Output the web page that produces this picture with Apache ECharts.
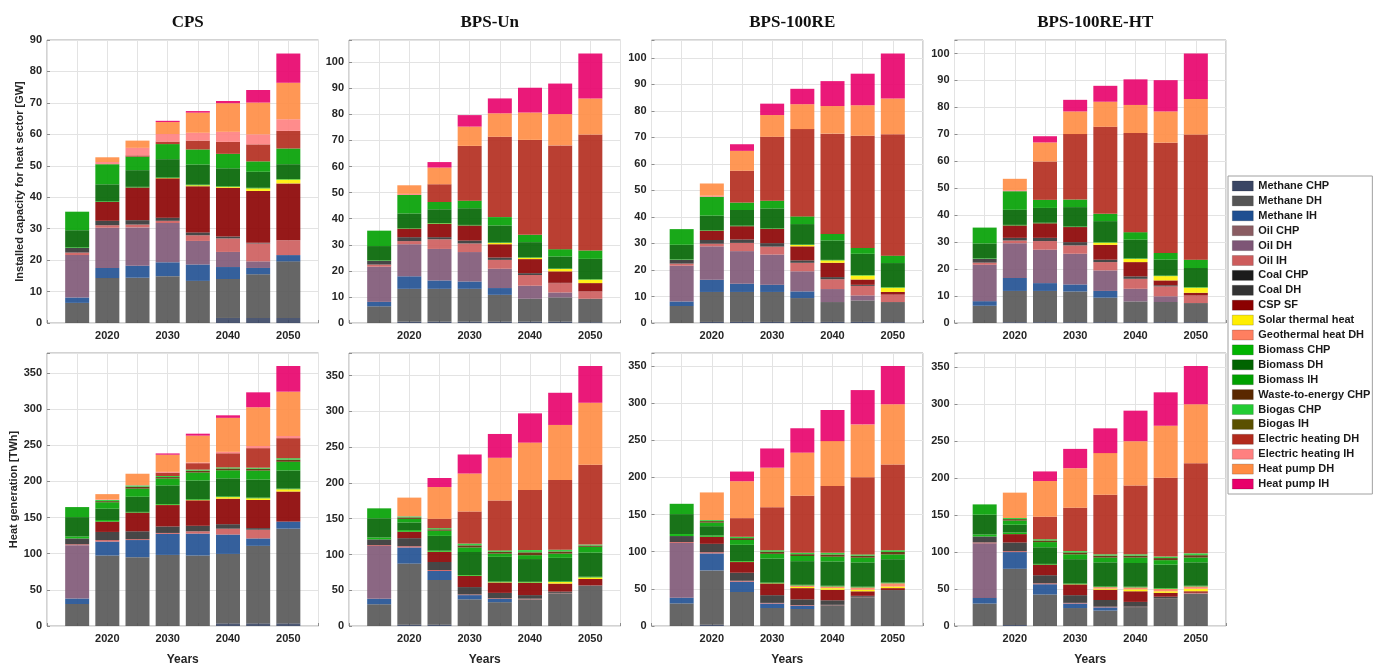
<!DOCTYPE html>
<html>
<head>
<meta charset="utf-8">
<script src="https://cdn.jsdelivr.net/npm/echarts@6/dist/echarts.min.js"></script>
<style>
  html, body { margin: 0; padding: 0; background: #ffffff; }
  #chart { width: 1380px; height: 667px; }
</style>
</head>
<body>
<div id="chart"></div>
<script>
// ---------------------------------------------------------------------------
// Heat sector: installed capacity (GW) and heat generation (TWh) per scenario
// ---------------------------------------------------------------------------
const years = [2015, 2020, 2025, 2030, 2035, 2040, 2045, 2050];
const scenarios = ['CPS', 'BPS-Un', 'BPS-100RE', 'BPS-100RE-HT'];
const technologies = [
  'Methane CHP', 'Methane DH', 'Methane IH', 'Oil CHP', 'Oil DH', 'Oil IH',
  'Coal CHP', 'Coal DH', 'CSP SF', 'Solar thermal heat', 'Geothermal heat DH',
  'Biomass CHP', 'Biomass DH', 'Biomass IH', 'Waste-to-energy CHP',
  'Biogas CHP', 'Biogas IH', 'Electric heating DH', 'Electric heating IH',
  'Heat pump DH', 'Heat pump IH'
];
const techColors = [
  '#3a4664', '#555555', '#1f4f91', '#8a5c62', '#7e5676', '#cd5c5c',
  '#1c1c1c', '#333333', '#8b0000', '#ffee00', '#ff7f60',
  '#00b400', '#006400', '#00a000', '#5a2800',
  '#22cc33', '#5a5000', '#b22a1c', '#ff8080',
  '#ff8c42', '#e8006a'
];

// Rows follow `technologies`, columns follow `years`.
const capacityCPS = [
  [0, 0, 0, 0, 0, 1.6, 1.6, 1.6],
  [6.4, 14.3, 14.4, 14.9, 13.4, 12.4, 13.9, 18.0],
  [1.7, 3.2, 3.8, 4.4, 5.2, 3.8, 2.0, 2.0],
  [0, 0, 0, 0, 0, 0, 0, 0],
  [13.5, 12.8, 12.2, 12.5, 7.5, 4.8, 2.1, 0],
  [0.8, 0.8, 0.9, 0.7, 1.8, 4.3, 5.7, 4.7],
  [0, 0, 0, 0, 0, 0, 0, 0],
  [1.5, 1.4, 1.4, 1.0, 0.9, 0.6, 0.2, 0],
  [0, 6.0, 10.4, 12.5, 14.7, 15.5, 16.5, 18.1],
  [0, 0, 0, 0.1, 0.3, 0.3, 0.8, 1.2],
  [0, 0, 0, 0, 0, 0, 0, 0],
  [0.2, 0.2, 0.2, 0.2, 0.2, 0.2, 0.2, 0.2],
  [5.4, 5.4, 5.3, 5.8, 6.4, 5.7, 5.1, 4.7],
  [5.9, 6.4, 4.3, 4.8, 4.8, 4.6, 3.3, 5.0],
  [0, 0, 0, 0, 0, 0, 0, 0],
  [0, 0, 0, 0, 0, 0, 0, 0],
  [0, 0, 0, 0, 0, 0, 0, 0],
  [0, 0, 0.4, 0.8, 2.8, 3.8, 5.4, 5.6],
  [0, 0.7, 2.4, 2.4, 2.5, 3.2, 3.2, 3.7],
  [0, 1.5, 2.3, 3.8, 6.4, 9.1, 10.1, 11.6],
  [0, 0, 0, 0.4, 0.5, 0.7, 4.0, 9.3]
];

const capacityBPSUn = [
  [0, 0.5, 0.5, 0.5, 0.5, 0.5, 0.5, 0.3],
  [6.4, 12.6, 12.6, 12.6, 10.3, 8.8, 9.3, 9.0],
  [1.7, 4.8, 3.2, 2.8, 2.6, 0, 0, 0],
  [0, 0, 0, 0, 0, 0, 0, 0],
  [13.5, 12.3, 12.1, 11.3, 7.4, 5.0, 1.9, 0],
  [0.8, 1.2, 3.7, 3.3, 3.4, 4.1, 3.6, 2.8],
  [0, 0, 0, 0, 0, 0, 0, 0],
  [1.5, 1.5, 0.8, 1.1, 0.9, 0.7, 0.1, 0],
  [0, 3.3, 5.1, 5.8, 5.1, 5.4, 4.4, 3.2],
  [0, 0, 0.1, 0, 0.5, 0.5, 0.9, 1.3],
  [0, 0, 0, 0, 0, 0, 0, 0],
  [0.2, 0.2, 0.2, 0.2, 0.2, 0.2, 0.2, 0.2],
  [5.4, 5.6, 5.3, 6.4, 6.5, 5.8, 4.6, 7.8],
  [5.9, 7.1, 2.8, 2.9, 3.2, 2.8, 2.8, 3.2],
  [0, 0, 0, 0, 0, 0, 0, 0],
  [0, 0, 0, 0, 0, 0, 0, 0],
  [0, 0, 0, 0, 0, 0, 0, 0],
  [0, 0, 6.8, 21.0, 30.8, 36.4, 39.8, 44.5],
  [0, 0.4, 0, 0, 0, 0, 0, 0],
  [0, 3.3, 6.4, 7.4, 9.0, 10.5, 12.0, 13.8],
  [0, 0, 2.1, 4.4, 5.7, 9.5, 11.7, 17.2]
];

const capacityBPS100RE = [
  [0, 0.4, 0.4, 0.4, 0.4, 0.4, 0.4, 0.3],
  [6.4, 11.3, 11.3, 11.3, 9.0, 7.5, 8.1, 7.6],
  [1.7, 4.6, 3.1, 2.7, 2.5, 0, 0, 0],
  [0, 0, 0, 0, 0, 0, 0, 0],
  [13.5, 12.6, 12.3, 11.4, 7.6, 4.9, 1.9, 0],
  [0.8, 1.0, 3.1, 3.0, 3.2, 3.7, 3.6, 2.8],
  [0, 0, 0, 0, 0, 0, 0, 0],
  [1.5, 1.4, 1.3, 1.3, 0.9, 0.8, 0.4, 0],
  [0, 3.5, 5.0, 5.4, 5.3, 5.4, 2.0, 1.0],
  [0, 0, 0, 0, 0.5, 0.9, 1.5, 1.6],
  [0, 0, 0, 0, 0, 0, 0, 0],
  [0.2, 0.2, 0.2, 0.2, 0.2, 0.2, 0.2, 0.2],
  [5.4, 5.5, 5.9, 7.5, 7.7, 7.3, 8.0, 9.1],
  [5.9, 7.1, 2.8, 2.9, 2.9, 2.5, 2.2, 2.8],
  [0, 0, 0, 0, 0, 0, 0, 0],
  [0, 0, 0, 0, 0, 0, 0, 0],
  [0, 0, 0, 0, 0, 0, 0, 0],
  [0, 0, 12.0, 24.1, 32.9, 37.8, 42.3, 45.8],
  [0, 0.4, 0, 0, 0, 0, 0, 0],
  [0, 4.6, 7.5, 8.2, 9.4, 10.4, 11.5, 13.4],
  [0, 0, 2.5, 4.3, 5.8, 9.4, 11.9, 17.0]
];

const capacityBPS100REHT = [
  [0, 0.3, 0.3, 0.3, 0.3, 0.3, 0.3, 0.3],
  [6.4, 11.6, 11.6, 11.4, 9.1, 7.7, 7.5, 7.1],
  [1.7, 4.8, 2.9, 2.6, 2.5, 0, 0, 0],
  [0, 0, 0, 0, 0, 0, 0, 0],
  [13.5, 12.9, 12.4, 11.4, 7.6, 4.7, 2.1, 0],
  [0.8, 1.0, 3.2, 3.1, 3.1, 3.7, 3.7, 2.8],
  [0, 0, 0, 0, 0, 0, 0, 0],
  [1.5, 1.0, 1.2, 1.2, 0.9, 0.9, 0.4, 0],
  [0, 4.6, 5.4, 5.6, 5.5, 5.3, 1.8, 1.0],
  [0, 0, 0, 0, 0.8, 1.2, 1.6, 1.9],
  [0, 0, 0, 0, 0, 0, 0, 0],
  [0.2, 0.2, 0.2, 0.2, 0.2, 0.2, 0.2, 0.2],
  [5.4, 5.6, 5.5, 7.2, 7.8, 6.9, 5.9, 7.1],
  [5.9, 6.9, 3.0, 2.8, 2.7, 2.8, 2.5, 3.1],
  [0, 0, 0, 0, 0, 0, 0, 0],
  [0, 0, 0, 0, 0, 0, 0, 0],
  [0, 0, 0, 0, 0, 0, 0, 0],
  [0, 0, 14.2, 24.3, 32.3, 36.8, 40.9, 46.4],
  [0, 0.4, 0, 0, 0, 0, 0, 0],
  [0, 4.2, 7.1, 8.4, 9.3, 10.4, 11.6, 13.2],
  [0, 0, 2.3, 4.3, 5.9, 9.5, 11.6, 16.9]
];

const generationCPS = [
  [0, 0, 0, 0, 0, 3.6, 3.6, 3.6],
  [30.4, 97.5, 95.2, 98.3, 97.5, 96.1, 107.3, 131.0],
  [7.6, 19.2, 23.7, 29.1, 30.3, 26.8, 10.2, 9.8],
  [0, 0, 0, 0, 0, 0, 0, 0],
  [73.8, 0, 0, 0, 0, 0, 0, 0],
  [1.3, 2.2, 1.3, 1.3, 3.2, 8.1, 12.1, 0],
  [0, 0, 0, 0, 0, 0, 0, 0],
  [8.0, 11.2, 10.8, 9.0, 7.6, 6.2, 2.2, 0],
  [0, 14.3, 25.9, 29.6, 35.3, 35.3, 38.9, 41.6],
  [0, 0, 0, 0.3, 0.5, 2.2, 2.3, 3.1],
  [0, 0, 0, 0, 0, 0, 0, 0],
  [2.7, 2.2, 0.9, 1.0, 1.0, 1.0, 1.0, 1.0],
  [26.8, 15.7, 21.0, 25.9, 25.8, 24.9, 24.9, 24.9],
  [13.9, 8.9, 11.2, 9.5, 11.1, 11.2, 12.5, 12.1],
  [0, 1.5, 2.7, 2.0, 2.5, 2.5, 2.5, 3.0],
  [0, 1.6, 1.8, 1.5, 1.5, 1.5, 1.5, 2.0],
  [0, 0, 0, 0, 0, 0, 0, 0],
  [0, 0, 0, 4.5, 8.9, 19.5, 27.0, 27.7],
  [0, 0.8, 0.5, 1.2, 1.0, 2.0, 3.0, 3.0],
  [0, 7.3, 15.6, 23.7, 37.1, 47.0, 53.6, 61.3],
  [0, 0, 0, 1.8, 2.7, 3.5, 20.6, 35.5]
];

const generationBPSUn = [
  [0, 1.8, 1.8, 0, 0, 0, 0, 0],
  [30.4, 85.5, 62.5, 37.3, 33.3, 37.3, 45.8, 56.7],
  [7.6, 22.5, 12.6, 5.9, 4.5, 0, 0, 0],
  [0, 0, 0, 0, 0, 0, 0, 0],
  [73.8, 0, 0, 0, 0, 0, 0, 0],
  [1.3, 1.8, 1.4, 0.9, 0.9, 0.9, 0.5, 0],
  [0, 0, 0, 0, 0, 0, 0, 0],
  [8.0, 11.2, 11.2, 10.3, 7.6, 5.0, 1.8, 0],
  [0, 9.0, 14.0, 15.5, 14.4, 17.1, 11.2, 9.0],
  [0, 0, 0.3, 0.3, 0.5, 0.5, 2.3, 2.2],
  [0, 0, 0, 0, 0, 0, 0, 0],
  [2.7, 2.3, 1.5, 1.0, 1.0, 1.0, 1.0, 1.0],
  [26.8, 10.7, 20.7, 32.3, 34.5, 31.8, 32.7, 33.7],
  [13.9, 5.0, 7.2, 6.3, 4.5, 5.4, 5.9, 8.1],
  [0, 2.0, 2.0, 3.0, 2.5, 4.0, 3.0, 1.8],
  [0, 1.5, 1.6, 2.4, 2.0, 3.2, 2.4, 1.3],
  [0, 0, 0, 0, 0, 0, 0, 0],
  [0, 0, 13.0, 44.9, 69.7, 84.1, 97.6, 111.6],
  [0, 0.5, 0, 0, 0, 0, 0, 0],
  [0, 25.7, 44.5, 53.1, 59.8, 66.1, 76.9, 86.8],
  [0, 0, 12.6, 26.6, 33.3, 40.9, 45.0, 51.3]
];

const generationBPS100RE = [
  [0, 1.7, 0, 0, 0, 0, 0, 0],
  [30.4, 73.1, 45.8, 24.2, 22.9, 28.0, 38.8, 48.4],
  [7.6, 22.9, 13.8, 6.0, 4.3, 0, 0, 0],
  [0, 0, 0, 0, 0, 0, 0, 0],
  [73.8, 0, 0, 0, 0, 0, 0, 0],
  [1.3, 1.7, 1.3, 0.9, 0.9, 0.5, 0.5, 0],
  [0, 0, 0, 0, 0, 0, 0, 0],
  [8.0, 11.2, 10.8, 10.4, 7.8, 6.1, 1.3, 0],
  [0, 9.5, 14.4, 15.7, 15.1, 14.2, 6.1, 2.6],
  [0, 0, 0.3, 0.3, 1.5, 2.2, 2.1, 2.2],
  [0, 0, 0, 0, 2.0, 2.2, 3.1, 4.3],
  [2.7, 1.8, 1.0, 1.0, 1.0, 1.0, 1.0, 1.0],
  [26.8, 12.5, 21.9, 32.3, 31.8, 32.7, 32.7, 31.4],
  [13.9, 4.8, 6.5, 6.4, 6.9, 6.4, 6.4, 6.5],
  [0, 2.0, 2.5, 2.8, 2.5, 3.0, 2.6, 3.2],
  [0, 1.4, 1.8, 2.0, 1.8, 2.2, 1.8, 2.4],
  [0, 0, 0, 0, 0, 0, 0, 0],
  [0, 0, 25.1, 57.9, 77.0, 89.9, 103.7, 115.4],
  [0, 0, 0, 0, 0, 0, 0, 0],
  [0, 37.2, 49.7, 53.2, 57.9, 60.5, 71.3, 81.2],
  [0, 0, 13.0, 25.9, 32.8, 41.9, 46.2, 51.4]
];

const generationBPS100REHT = [
  [0, 1.3, 0, 0, 0, 0, 0, 0],
  [30.4, 76.1, 42.6, 24.3, 20.9, 25.6, 36.5, 43.9],
  [7.6, 22.6, 13.9, 6.1, 4.3, 0, 0, 0],
  [0, 0, 0, 0, 0, 0, 0, 0],
  [73.8, 0, 0, 0, 0, 0, 0, 0],
  [1.3, 1.3, 1.3, 0.9, 0.9, 0.5, 0.5, 1.0],
  [0, 0, 0, 0, 0, 0, 0, 0],
  [8.0, 11.7, 10.9, 10.4, 9.1, 6.5, 2.6, 0],
  [0, 11.3, 14.3, 14.5, 13.9, 14.4, 5.2, 2.1],
  [0, 0, 0, 0.3, 1.5, 2.6, 2.2, 3.4],
  [0, 0, 0, 0, 2.0, 2.6, 3.4, 3.1],
  [2.7, 2.2, 1.0, 1.0, 1.0, 1.0, 1.0, 1.0],
  [26.8, 10.5, 22.5, 32.9, 32.5, 32.0, 31.6, 31.6],
  [13.9, 5.6, 7.0, 6.6, 6.5, 7.4, 6.1, 6.5],
  [0, 2.0, 2.2, 2.5, 2.6, 2.6, 2.8, 3.2],
  [0, 1.5, 1.7, 1.8, 1.8, 1.8, 2.0, 2.5],
  [0, 0, 0, 0, 0, 0, 0, 0],
  [0, 0, 30.4, 58.7, 80.4, 93.0, 106.5, 121.7],
  [0, 0, 0, 0, 0, 0, 0, 0],
  [0, 34.3, 48.3, 53.5, 56.5, 60.0, 70.5, 80.0],
  [0, 0, 13.0, 26.1, 33.5, 41.3, 45.2, 51.7]
];

// Panel order: capacity row first, then generation row, one column per scenario.
const panelTables = [
  capacityCPS, capacityBPSUn, capacityBPS100RE, capacityBPS100REHT,
  generationCPS, generationBPSUn, generationBPS100RE, generationBPS100REHT
];

// ---------------------------------------------------------------------------
// Layout
// ---------------------------------------------------------------------------
const colLeft = [47, 349, 651.5, 954.5];
const colWidth = 271.5;
const rowTop = [40, 353];
const rowHeight = [283, 282];
const rowStep = [10, 50];
const rowAxisName = ['Installed capacity for heat sector [GW]', 'Heat generation [TWh]'];
const rowNameGap = [20, 27];

// The year axis runs one 5-year step beyond the data on each side.
const yearStep = years[1] - years[0];
const axisYears = [years[0] - yearStep, ...years, years[years.length - 1] + yearStep];

const sansFont = '"Liberation Sans", Arial, Helvetica, sans-serif';
const labelColor = '#262626';

const grids = [], xAxes = [], yAxes = [], series = [];

panelTables.forEach((table, p) => {
  const row = p < 4 ? 0 : 1;
  const col = p % 4;

  // stacked totals set the axis top (5 % headroom)
  const totals = years.map((_, i) => table.reduce((s, r) => s + r[i], 0));
  const yMax = Math.round(Math.max(...totals) * 1.05 * 10) / 10;
  const step = rowStep[row];

  grids.push({
    left: colLeft[col], top: rowTop[row], width: colWidth, height: rowHeight[row],
    show: true, backgroundColor: '#ffffff', borderColor: '#a6a6a6', borderWidth: 1,
    containLabel: false
  });

  xAxes.push({
    type: 'category', gridIndex: p, data: axisYears.map(String), boundaryGap: false,
    name: row === 1 ? 'Years' : '', nameLocation: 'middle', nameGap: 28,
    nameTextStyle: { fontFamily: sansFont, fontWeight: 'bold', fontSize: 12, color: labelColor },
    axisLine: { show: false },
    axisTick: { show: true, inside: true, length: 3, interval: 0, lineStyle: { color: '#8c8c8c' } },
    axisLabel: {
      interval: 0,
      fontFamily: sansFont, fontWeight: 'bold', fontSize: 11, color: labelColor, margin: 7,
      formatter: (v, i) => (i > 0 && i < axisYears.length - 1 && Number(v) % 10 === 0) ? v : ''
    },
    splitLine: { show: true, interval: 0, lineStyle: { color: '#e3e3e3', width: 1 } }
  });

  yAxes.push({
    type: 'value', gridIndex: p, min: 0, max: yMax, interval: step,
    name: col === 0 ? rowAxisName[row] : '', nameLocation: 'middle', nameGap: rowNameGap[row],
    nameTextStyle: { fontFamily: sansFont, fontWeight: 'bold', fontSize: 11, color: labelColor },
    axisLine: { show: false },
    axisTick: { show: true, inside: true, length: 3, lineStyle: { color: '#8c8c8c' } },
    axisLabel: {
      fontFamily: sansFont, fontWeight: 'bold', fontSize: 11, color: labelColor, margin: 5,
      formatter: v => (Math.abs(v / step - Math.round(v / step)) < 1e-6) ? String(Math.round(v)) : ''
    },
    splitLine: { show: true, lineStyle: { color: '#e3e3e3', width: 1 } }
  });

  table.forEach((values, t) => {
    series.push({
      type: 'bar',
      name: technologies[t],
      xAxisIndex: p,
      yAxisIndex: p,
      stack: 'panel' + p,
      barWidth: 24,
      itemStyle: { color: techColors[t], opacity: 0.9 },
      emphasis: { disabled: true },
      // empty slots for the padding years at both ends of the axis
      data: ['-', ...values, '-']
    });
  });
});

const titles = scenarios.map((s, c) => ({
  text: s,
  left: colLeft[c] + colWidth / 2,
  top: 9,
  textAlign: 'center',
  textStyle: {
    fontFamily: '"Liberation Serif", "Times New Roman", serif',
    fontWeight: 'bold', fontSize: 17, color: '#111111'
  }
}));

const chart = echarts.init(document.getElementById('chart'), null, { renderer: 'canvas' });
chart.setOption({
  animation: false,
  backgroundColor: '#ffffff',
  title: titles,
  grid: grids,
  xAxis: xAxes,
  yAxis: yAxes,
  legend: {
    data: technologies,
    orient: 'vertical',
    left: 1228,
    top: 176,
    padding: [4, 2, 4, 4],
    itemWidth: 21,
    itemHeight: 10,
    itemGap: 2.9,
    icon: 'rect',
    selectedMode: false,
    backgroundColor: '#ffffff',
    borderColor: '#a0a0a0',
    borderWidth: 1,
    itemStyle: { borderColor: 'rgba(0,0,0,0.3)', borderWidth: 0.6, opacity: 1 },
    textStyle: { fontFamily: sansFont, fontWeight: 'bold', fontSize: 11, color: '#1a1a1a', lineHeight: 12 }
  },
  series: series
});
</script>
</body>
</html>
